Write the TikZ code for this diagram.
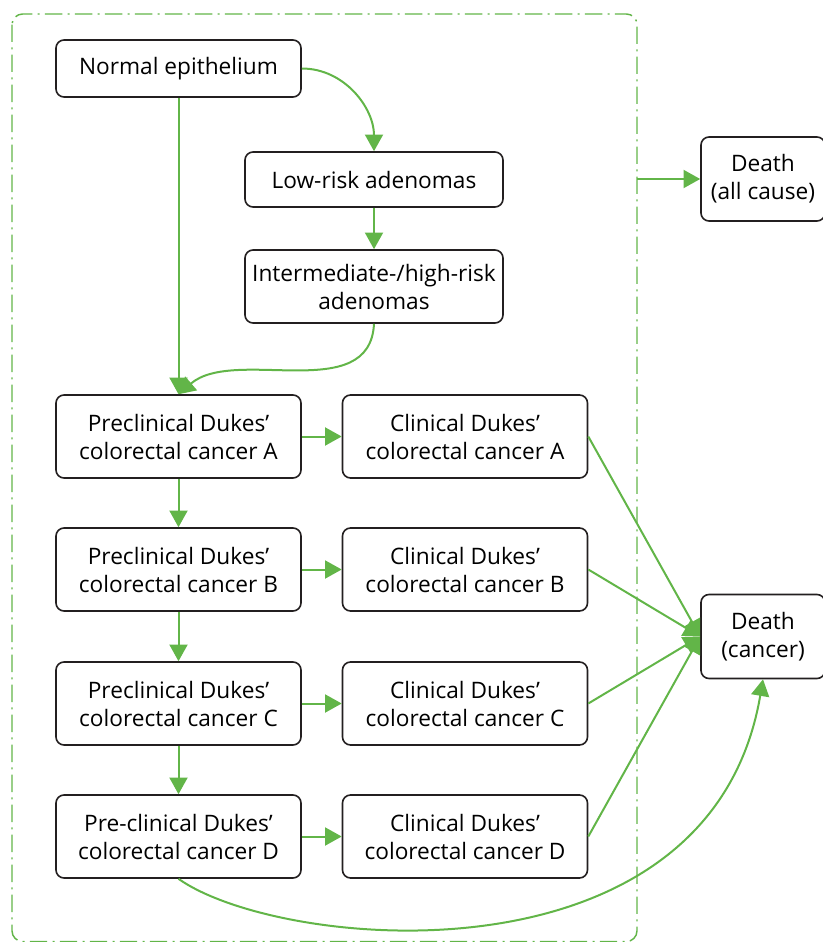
\documentclass[tikz,border=0pt]{standalone}
\usepackage{fontspec}
\setmainfont{Open Sans}
\usetikzlibrary{arrows.meta}

\definecolor{flowgreen}{RGB}{98,181,72}
\definecolor{boxline}{RGB}{35,31,32}
\newcommand\pxu{0.75pt}

\begin{document}
\begin{tikzpicture}[x=\pxu, y=\pxu,
  box/.style={draw=boxline, line width=1.2pt, rounded corners=6pt, fill=white,
    align=center, inner sep=0pt, font=\fontsize{17}{21}\selectfont},
  stagebox/.style={box, minimum width=245*\pxu, minimum height=83*\pxu},
  adenbox/.style={box, minimum width=258*\pxu},
  deathbox/.style={box, minimum width=124*\pxu, minimum height=84*\pxu},
  flow/.style={draw=flowgreen, line width=1.5pt, -{Triangle[length=12.5pt,width=13.5pt]}},
  frame/.style={draw=flowgreen, line width=1.1pt, rounded corners=8pt,
    dash pattern=on 13pt off 4pt on 1.5pt off 4pt}]

\useasboundingbox (0,0) rectangle (823,-942);

% Dash-dot frame round the natural history
\draw[frame] (12,-14) rectangle (637,-941.5);
\coordinate (gate) at (637,-179);

% Adenoma part
\node[box, minimum width=245*\pxu, minimum height=57*\pxu] (normal) at (178.5,-68.5) {Normal epithelium};
\node[adenbox, minimum height=55*\pxu] (lowrisk) at (374,-179.5) {Low-risk adenomas};
\node[adenbox, minimum height=73*\pxu] (interm) at (374,-286.5) {Intermediate-/high-risk\\adenomas};

% Dukes' stages
\foreach \s/\y/\pre in {A/436.5/Preclinical, B/569.5/Preclinical, C/703.5/Preclinical, D/836.5/Pre-clinical} {
  \node[stagebox] (prec\s) at (178.5,-\y) {\pre\ Dukes’\\colorectal cancer \s};
  \node[stagebox] (clin\s) at (465,-\y) {Clinical Dukes’\\colorectal cancer \s};
}

% Death states
\node[deathbox] (deathall) at (763,-179) {Death\\(all cause)};
\node[deathbox] (deathca) at (763,-636.5) {Death\\(cancer)};

% Transitions
\draw[flow] (normal.east) to[out=0,in=90] (lowrisk.north);
\draw[flow] (lowrisk) -- (interm);
\draw[flow] (normal.south) -- (precA.north);
\draw[flow] (interm.south) .. controls +(-4,-82) and +(56,48) .. (precA.north);
\foreach \a/\b in {A/B, B/C, C/D}
  \draw[flow] (prec\a) -- (prec\b);
\foreach \s in {A,B,C,D} {
  \draw[flow] (prec\s) -- (clin\s);
  \draw[flow] (clin\s.east) -- (deathca.west);
}
\draw[flow] (precD.south) .. controls +(101.5,-72) and +(-53,-312) .. (deathca.south);
\draw[flow] (gate) -- (deathall);

\end{tikzpicture}
\end{document}
